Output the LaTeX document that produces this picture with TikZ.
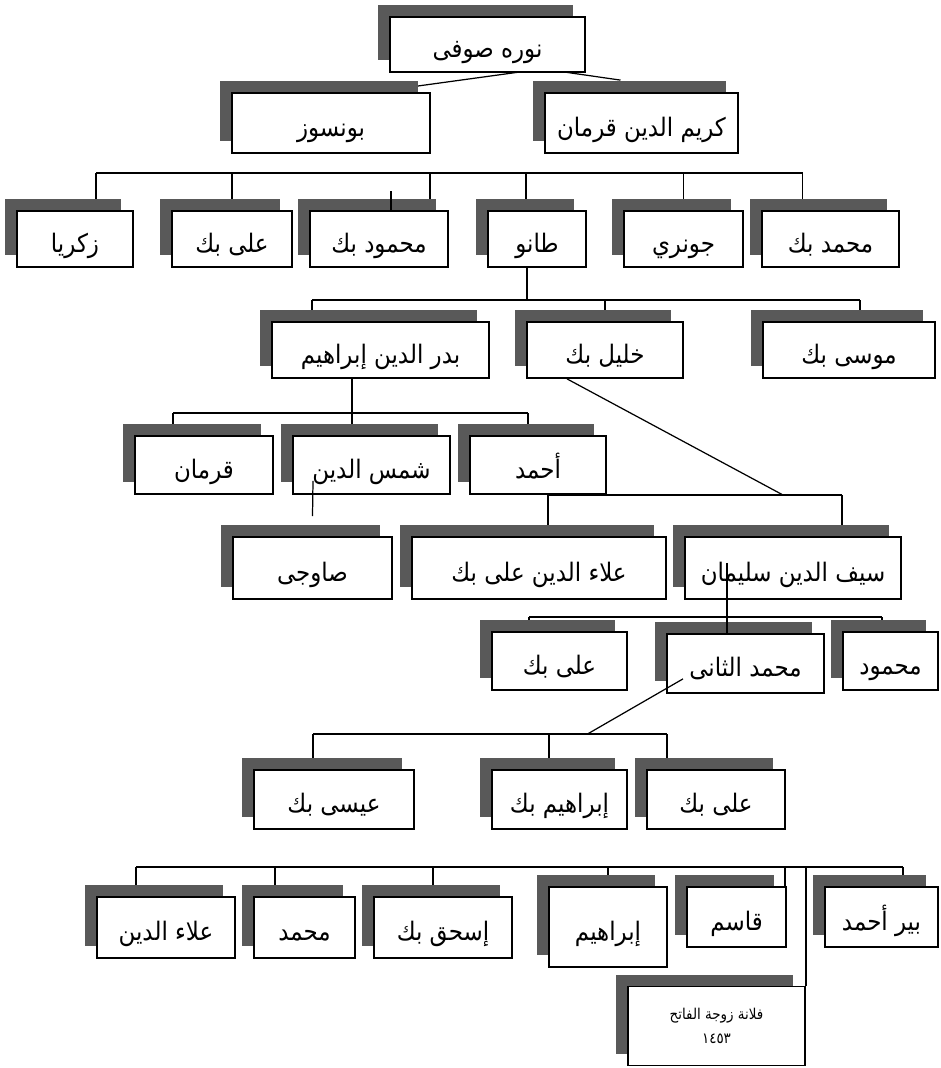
\documentclass[tikz,border=0pt]{standalone}
\usepackage{fontspec}
\newfontfamily\arabicfont[Script=Arabic, FakeStretch=0.9]{DejaVu Sans}
\TeXXeTstate=1
\usetikzlibrary{calc,shadows}
\newlength{\pxu}
\setlength{\pxu}{0.02cm}
\pgfdeclarelayer{background}
\pgfsetlayers{background,main}
\tikzset{
person/.style={rectangle, draw=black, line width=1pt, fill=white, inner sep=2pt, font=\arabicfont\fontsize{14.5}{16}\selectfont, drop shadow={shadow xshift=-12\pxu, shadow yshift=12\pxu, fill=black!65, opacity=1}},
member/.style={person, text height=16pt, text depth=1pt, execute at begin node=\beginR, execute at end node=\endR},
boxsize/.style 2 args={minimum width=#1\pxu, minimum height=#2\pxu},
link/.style={draw, line width=0.7pt},
}

\begin{document}
\begin{tikzpicture}[x=1\pxu, y=-1\pxu]
\useasboundingbox (0,0) rectangle (940,1068);

\node[member, boxsize={195}{55}] (root) at (487.5,44.5) {نوره صوفى};

\node[member, boxsize={198}{60}] (bunsuz) at (331,123) {بونسوز};
\node[member, boxsize={193}{60}] (karim) at (641.5,123) {كريم الدين قرمان};

\node[member, boxsize={116}{56}] (zak) at (75,239) {زكريا};
\node[member, boxsize={120}{56}] (alibek1) at (232,239) {على بك};
\node[member, boxsize={138}{56}] (mahmudbek) at (379,239) {محمود بك};
\node[member, boxsize={98}{56}] (tanu) at (537,239) {طانو};
\node[member, boxsize={119}{56}] (junri) at (683.5,239) {جونري};
\node[member, boxsize={137}{56}] (mehmedbek) at (830.5,239) {محمد بك};

\node[member, boxsize={217}{56}] (badr) at (380.5,350) {بدر الدين إبراهيم};
\node[member, boxsize={156}{56}] (khalil) at (605,350) {خليل بك};
\node[member, boxsize={172}{56}] (musa) at (849,350) {موسى بك};

\node[member, boxsize={138}{58}] (karaman) at (204,465) {قرمان};
\node[member, boxsize={157}{58}] (shams) at (371.5,465) {شمس الدين};
\node[member, boxsize={136}{58}] (ahmad) at (538,465) {أحمد};

\node[member, boxsize={159}{62}] (sawji) at (312.5,568) {صاوجى};
\node[member, boxsize={254}{62}] (alaaddin) at (539,568) {علاء الدين على بك};
\node[member, boxsize={216}{62}] (sayf) at (793,568) {سيف الدين سليمان};

\node[member, boxsize={135}{58}] (alibek2) at (559.5,661) {على بك};
\node[member, boxsize={157}{59}] (mehmed2) at (745.5,663.5) {محمد الثانى};
\node[member, boxsize={95}{58}] (mahmud) at (890.5,661) {محمود};

\node[member, boxsize={160}{59}] (isa) at (334,799.5) {عيسى بك};
\node[member, boxsize={135}{59}] (ibrahimbek) at (559.5,799.5) {إبراهيم بك};
\node[member, boxsize={138}{59}] (alibek3) at (716,799.5) {على بك};

\node[member, boxsize={138}{61}] (alaaddin2) at (166,927.5) {علاء الدين};
\node[member, boxsize={101}{61}] (mehmed3) at (304.5,927.5) {محمد};
\node[member, boxsize={138}{61}] (ishak) at (443,927.5) {إسحق بك};
\node[member, boxsize={118}{80}] (ibrahim) at (608,927) {إبراهيم};
\node[member, boxsize={99}{60}] (kasim) at (736.5,917) {قاسم};
\node[member, boxsize={113}{60}] (pirahmad) at (881.5,917) {بير أحمد};
\node[person, boxsize={177}{79}, align=center, font=\arabicfont\fontsize{8.5}{14}\selectfont] (fulana) at (716.5,1026) {\beginR فلانة زوجة الفاتح\endR\\ ١٤٥٣};

\begin{pgfonlayer}{background}
\coordinate (rootj) at ($(root.south)+(55,-4)$);
\path[link] (rootj) -- ($(bunsuz.north)+(86,-6)$);
\path[link] (rootj) -- ($(karim.north)+(-21,-12)$);

\coordinate (bus2) at (0,173);
\path[link] ($(zak.north |- bus2)+(21,0)$) -- ($(mehmedbek.north |- bus2)+(-28,0)$);
\path[link] ($(zak.north |- bus2)+(21,0)$) -- ($(zak.north)+(21,0)$);
\path[link] (alibek1.north |- bus2) -- (alibek1.north);
\path[link] ($(mahmudbek.north |- bus2)+(51,0)$) -- ($(mahmudbek.north)+(51,0)$);
\path[link] ($(tanu.north |- bus2)+(-11,0)$) -- ($(tanu.north)+(-11,0)$);
\path[link] (junri.north |- bus2) -- (junri.north);
\path[link] ($(mehmedbek.north |- bus2)+(-28,0)$) -- ($(mehmedbek.north)+(-28,0)$);

\coordinate (bus3) at (0,300);
\path[link] ($(tanu.south)+(-10,0)$) -- ($(tanu.south |- bus3)+(-10,0)$);
\path[link] ($(badr.north |- bus3)+(-68.5,0)$) -- ($(musa.north |- bus3)+(11,0)$);
\path[link] ($(badr.north |- bus3)+(-68.5,0)$) -- ($(badr.north)+(-68.5,0)$);
\path[link] (khalil.north |- bus3) -- (khalil.north);
\path[link] ($(musa.north |- bus3)+(11,0)$) -- ($(musa.north)+(11,0)$);

\coordinate (bus4) at (0,413);
\path[link] ($(badr.south)+(-28.5,0)$) -- ($(badr.south |- bus4)+(-28.5,0)$);
\path[link] ($(karaman.north |- bus4)+(-31,0)$) -- ($(ahmad.north |- bus4)+(-10,0)$);
\path[link] ($(karaman.north |- bus4)+(-31,0)$) -- ($(karaman.north)+(-31,0)$);
\path[link] ($(shams.north |- bus4)+(-19.5,0)$) -- ($(shams.north)+(-19.5,0)$);
\path[link] ($(ahmad.north |- bus4)+(-10,0)$) -- ($(ahmad.north)+(-10,0)$);

\coordinate (bus5) at (0,495);
\path[link] ($(khalil.south)+(-38,0)$) -- ($(sayf.north |- bus5)+(-10,0)$);
\path[link] ($(alaaddin.north |- bus5)+(9,0)$) -- ($(sayf.north |- bus5)+(49,0)$);
\path[link] ($(alaaddin.north |- bus5)+(9,0)$) -- ($(alaaddin.north)+(9,0)$);
\path[link] ($(sayf.north |- bus5)+(49,0)$) -- ($(sayf.north)+(49,0)$);

\coordinate (bus6) at (0,617);
\path[link] ($(alibek2.north |- bus6)+(-30.5,0)$) -- ($(mahmud.north |- bus6)+(-8.5,0)$);
\path[link] ($(alibek2.north |- bus6)+(-30.5,0)$) -- ($(alibek2.north)+(-30.5,0)$);
\path[link] ($(mahmud.north |- bus6)+(-8.5,0)$) -- ($(mahmud.north)+(-8.5,0)$);

\coordinate (bus7) at (0,734);
\path[link] ($(isa.north |- bus7)+(-21,0)$) -- ($(alibek3.north |- bus7)+(-49,0)$);
\path[link] ($(isa.north |- bus7)+(-21,0)$) -- ($(isa.north)+(-21,0)$);
\path[link] ($(ibrahimbek.north |- bus7)+(-10.5,0)$) -- ($(ibrahimbek.north)+(-10.5,0)$);
\path[link] ($(alibek3.north |- bus7)+(-49,0)$) -- ($(alibek3.north)+(-49,0)$);

\coordinate (bus8) at (0,867);
\path[link] ($(alaaddin2.north |- bus8)+(-30,0)$) -- ($(pirahmad.north |- bus8)+(21.5,0)$);
\path[link] ($(alaaddin2.north |- bus8)+(-30,0)$) -- ($(alaaddin2.north)+(-30,0)$);
\path[link] ($(mehmed3.north |- bus8)+(-29.5,0)$) -- ($(mehmed3.north)+(-29.5,0)$);
\path[link] ($(ishak.north |- bus8)+(-10,0)$) -- ($(ishak.north)+(-10,0)$);
\path[link] (ibrahim.north |- bus8) -- (ibrahim.north);
\path[link] ($(kasim.north |- bus8)+(48.5,0)$) -- ($(kasim.north)+(48.5,0)$);
\path[link] (fulana.north east |- bus8) -- (fulana.north east);
\path[link] ($(pirahmad.north |- bus8)+(21.5,0)$) -- ($(pirahmad.north)+(21.5,0)$);
\end{pgfonlayer}

% lines that run over the boxes
\path[link] ($(mahmudbek.north)+(12,0)$) -- ($(mahmudbek.north)+(12,-19)$);
\path[link] ($(shams.south)+(-58.5,-14)$) -- ($(sawji.north)+(0,-20)$);
\path[link] ($(sayf.south)+(-66,-37)$) -- ($(mehmed2.north)+(-18.5,0)$);
\path[link] ($(mehmed2.south)+(-62.5,-15)$) -- ($(ibrahimbek.north |- bus7)+(28,0)$);

\end{tikzpicture}
\end{document}
